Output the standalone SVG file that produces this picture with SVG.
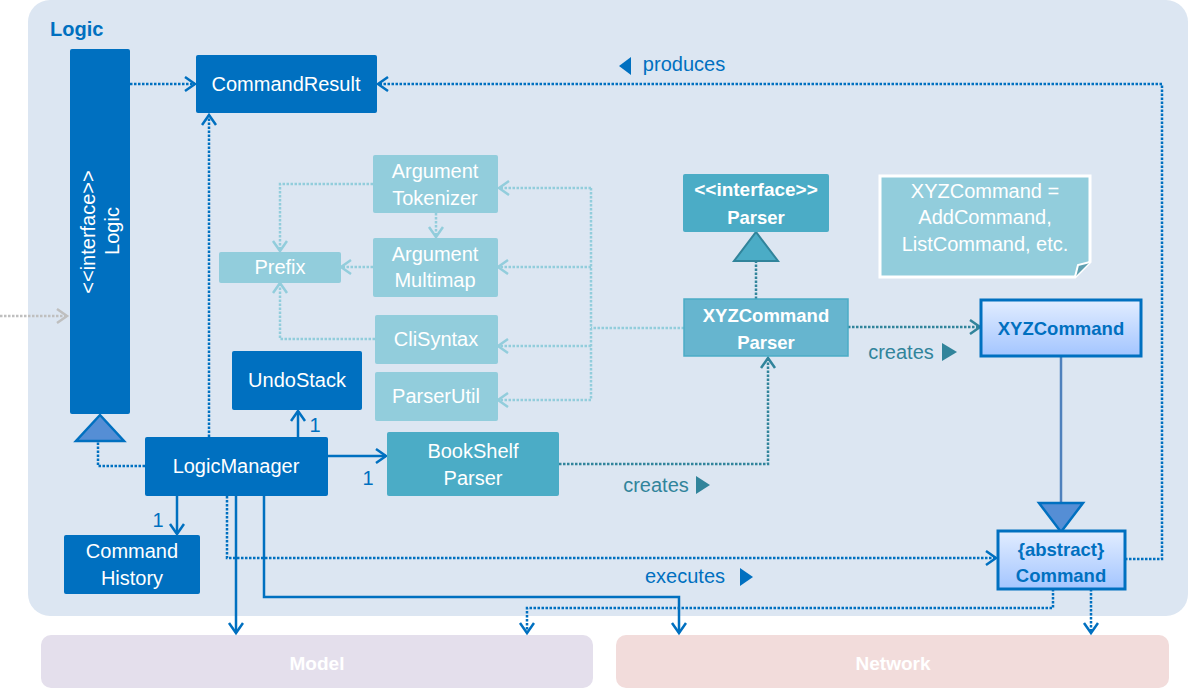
<svg xmlns="http://www.w3.org/2000/svg" width="1190" height="690" viewBox="0 0 1190 690">
<style>
text{font-family:"Liberation Sans",Arial,sans-serif;font-size:20px;text-anchor:middle;fill:#fff}
.b{font-weight:bold}
.bb{font-weight:bold;font-size:18.5px}
.lbl{fill:#0070C0}
.tl{fill:#31849B}
.dk{fill:#0070C0}
.lt{fill:#92CDDC}
.md{fill:#4BACC6}
.c{fill:none;stroke-width:2.5}
.dot{stroke-dasharray:2.5 1.5}
.blue{stroke:#0070C0}
.lteal{stroke:#92CDDC}
.dteal{stroke:#31849B}
.gray{stroke:#BFBFBF}
</style>
<defs>
<marker id="ab" markerUnits="userSpaceOnUse" markerWidth="14" markerHeight="18" refX="11" refY="8" orient="auto"><path d="M1,1 L11,8 L1,15" fill="none" stroke="#0070C0" stroke-width="2.5"/></marker>
<marker id="al" markerUnits="userSpaceOnUse" markerWidth="14" markerHeight="18" refX="11" refY="8" orient="auto"><path d="M1,1 L11,8 L1,15" fill="none" stroke="#92CDDC" stroke-width="2.5"/></marker>
<marker id="ad" markerUnits="userSpaceOnUse" markerWidth="14" markerHeight="18" refX="11" refY="8" orient="auto"><path d="M1,1 L11,8 L1,15" fill="none" stroke="#31849B" stroke-width="2.5"/></marker>
<marker id="ag" markerUnits="userSpaceOnUse" markerWidth="14" markerHeight="18" refX="11" refY="8" orient="auto"><path d="M1,1 L11,8 L1,15" fill="none" stroke="#BFBFBF" stroke-width="2.5"/></marker>
<linearGradient id="gr" x1="0" y1="0" x2="0" y2="1"><stop offset="0" stop-color="#E2EDFF"/><stop offset="1" stop-color="#A3C5FF"/></linearGradient>
</defs>
<g id="logic-container">
<rect x="28" y="0" width="1160" height="616" rx="22" fill="#DCE6F2"/>
<text x="50" y="36" class="b" style="font-size:20px;text-anchor:start;fill:#0070C0">Logic</text>
</g>
<g id="model"><rect x="41" y="635" width="552" height="53" rx="10" fill="#E4DFEC"/><text x="317" y="670" class="b" style="font-size:19px">Model</text></g>
<g id="network"><rect x="616" y="635" width="553" height="53" rx="10" fill="#F2DCDB"/><text x="893" y="670" class="b" style="font-size:19px">Network</text></g>

<g id="connectors">
<path class="c dot gray" d="M0,316 H67" marker-end="url(#ag)"/>
<path class="c dot blue" d="M130,84 H195" marker-end="url(#ab)"/>
<path class="c dot blue" d="M209,437 V115" marker-end="url(#ab)"/>
<path class="c dot blue" d="M145,466 H98 V442"/>
<path class="c dot blue" d="M1125,559 H1162 V84 H378" marker-end="url(#ab)"/>
<path class="c dot lteal" d="M373,184 H280 V251" marker-end="url(#al)"/>
<path class="c dot lteal" d="M436,213 V237" marker-end="url(#al)"/>
<path class="c dot lteal" d="M373,267 H341" marker-end="url(#al)"/>
<path class="c dot lteal" d="M375,339 H280 V283" marker-end="url(#al)"/>
<path class="c dot lteal" d="M684,328 H591"/>
<path class="c dot lteal" d="M591,188 V400"/>
<path class="c dot lteal" d="M591,188 H499" marker-end="url(#al)"/>
<path class="c dot lteal" d="M591,267 H498" marker-end="url(#al)"/>
<path class="c dot lteal" d="M591,346 H498" marker-end="url(#al)"/>
<path class="c dot lteal" d="M591,400 H498" marker-end="url(#al)"/>
<path class="c dot dteal" d="M756,299 V262"/>
<path class="c dot dteal" d="M848,327 H980" marker-end="url(#ad)"/>
<path class="c dot dteal" d="M559,464 H768 V358" marker-end="url(#ad)"/>
<path class="c blue" d="M298,437 V411" marker-end="url(#ab)"/>
<path class="c blue" d="M328,456 H386" marker-end="url(#ab)"/>
<path class="c blue" d="M177,496 V534" marker-end="url(#ab)"/>
<path class="c dot blue" d="M227,496 V558 H996" marker-end="url(#ab)"/>
<path class="c blue" d="M236,496 V633" marker-end="url(#ab)"/>
<path class="c blue" d="M264,496 V597 H679 V633" marker-end="url(#ab)"/>
<path class="c dot blue" d="M1053,589 V608 H527 V633" marker-end="url(#ab)"/>
<path class="c dot blue" d="M1091,589 V633" marker-end="url(#ab)"/>
<path d="M1061,357 V503" fill="none" stroke="#4F81BD" stroke-width="2.5"/>
<polygon points="76,441 124,441 100,415" fill="#558ED5" stroke="#0070C0" stroke-width="2.5"/>
<polygon points="734,261 778,261 756,232" fill="#4BACC6" stroke="#31849B" stroke-width="2"/>
<polygon points="1039,503 1083,503 1061,532" fill="#558ED5" stroke="#0070C0" stroke-width="2.5"/>
<text x="684" y="71" class="lbl">produces</text>
<polygon points="631,57 631,75 619,66" fill="#0070C0"/>
<text x="901" y="359" class="tl">creates</text>
<polygon points="942,343 942,361 957,352" fill="#31849B"/>
<text x="656" y="492" class="tl">creates</text>
<polygon points="696,476 696,494 710,485" fill="#31849B"/>
<text x="685" y="583" class="lbl">executes</text>
<polygon points="740,568 740,586 753,577" fill="#0070C0"/>
<text x="315" y="432" class="lbl">1</text>
<text x="368" y="485" class="lbl">1</text>
<text x="158" y="527" class="lbl">1</text>
</g>

<g id="logic-interface"><rect x="70" y="49" width="60" height="365" rx="2" class="dk"/>
<text transform="translate(95,232) rotate(-90)">&lt;&lt;interface&gt;&gt;</text>
<text transform="translate(119,231) rotate(-90)">Logic</text></g>
<g id="command-result"><rect x="196" y="55" width="181" height="58" rx="2" class="dk"/><text x="286" y="91">CommandResult</text></g>
<g id="argument-tokenizer"><rect x="373" y="155" width="125" height="58" rx="2" class="lt"/><text x="435" y="178">Argument</text><text x="435" y="205">Tokenizer</text></g>
<g id="argument-multimap"><rect x="373" y="238" width="125" height="59" rx="2" class="lt"/><text x="435" y="261">Argument</text><text x="435" y="287">Multimap</text></g>
<g id="prefix"><rect x="219" y="252" width="122" height="31" rx="2" class="lt"/><text x="280" y="274">Prefix</text></g>
<g id="cli-syntax"><rect x="375" y="315" width="123" height="49" rx="2" class="lt"/><text x="436" y="346">CliSyntax</text></g>
<g id="parser-util"><rect x="375" y="372" width="123" height="49" rx="2" class="lt"/><text x="436" y="403">ParserUtil</text></g>
<g id="undo-stack"><rect x="232" y="351" width="130" height="59" rx="2" class="dk"/><text x="297" y="387">UndoStack</text></g>
<g id="logic-manager"><rect x="145" y="437" width="183" height="59" rx="2" class="dk"/><text x="236" y="473">LogicManager</text></g>
<g id="command-history"><rect x="64" y="535" width="136" height="59" rx="2" class="dk"/><text x="132" y="558">Command</text><text x="132" y="585">History</text></g>
<g id="bookshelf-parser"><rect x="387" y="432" width="172" height="64" rx="2" class="md"/><text x="473" y="458">BookShelf</text><text x="473" y="485">Parser</text></g>
<g id="parser-interface"><rect x="683" y="174" width="146" height="58" rx="2" class="md"/><text x="756" y="196" class="bb" style="font-size:19px">&lt;&lt;interface&gt;&gt;</text><text x="756" y="224" class="bb">Parser</text></g>
<g id="xyz-command-parser"><rect x="684" y="299" width="164" height="57" fill="#66B5CF" stroke="#4BACC6" stroke-width="1.5"/><text x="766" y="322" class="bb">XYZCommand</text><text x="766" y="349" class="bb">Parser</text></g>
<g id="note"><path d="M880,176 H1090 V262 L1075,277 H880 Z" fill="#92CDDC" stroke="#fff" stroke-width="3"/><path d="M1075,277 L1078,265 L1090,262" fill="#5E9FB0" stroke="#fff" stroke-width="2"/>
<text x="985" y="198">XYZCommand =</text><text x="985" y="224">AddCommand,</text><text x="985" y="251">ListCommand, etc.</text></g>
<g id="xyz-command"><rect x="981" y="300" width="160" height="56" fill="url(#gr)" stroke="#0070C0" stroke-width="3"/><text x="1061" y="335" class="bb" style="fill:#0070C0">XYZCommand</text></g>
<g id="command"><rect x="998" y="531" width="127" height="58" fill="url(#gr)" stroke="#0070C0" stroke-width="3"/><text x="1061" y="556" class="bb" style="fill:#0070C0">{abstract}</text><text x="1061" y="582" class="bb" style="fill:#0070C0">Command</text></g>
</svg>
